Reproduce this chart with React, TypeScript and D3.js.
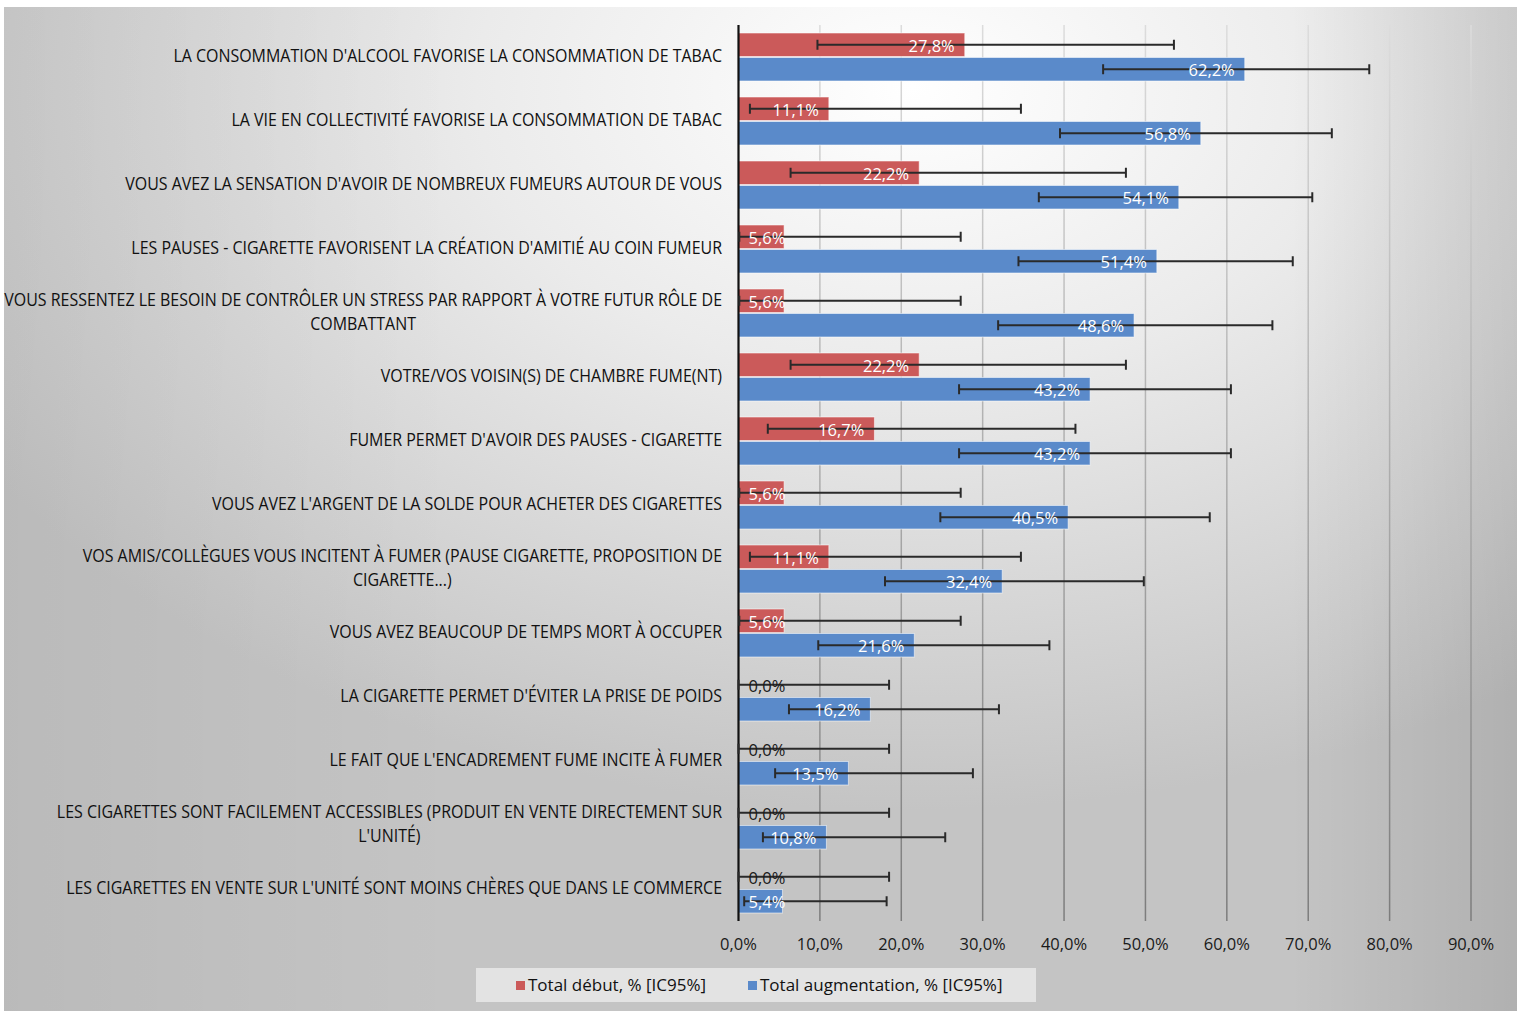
import React, { useEffect, useRef } from 'react';
import { select, scaleBand, scaleLinear } from 'd3';

// Categories (top to bottom); "\n" marks where the original label wraps
const categories = [
  "LA CONSOMMATION D'ALCOOL FAVORISE LA CONSOMMATION DE TABAC",
  "LA VIE EN COLLECTIVITÉ FAVORISE LA CONSOMMATION DE TABAC",
  "VOUS AVEZ LA SENSATION D'AVOIR DE NOMBREUX FUMEURS AUTOUR DE VOUS",
  "LES PAUSES - CIGARETTE FAVORISENT LA CRÉATION D'AMITIÉ AU COIN FUMEUR",
  "VOUS RESSENTEZ LE BESOIN DE CONTRÔLER UN STRESS PAR RAPPORT À VOTRE FUTUR RÔLE DE\nCOMBATTANT",
  "VOTRE/VOS VOISIN(S) DE CHAMBRE FUME(NT)",
  "FUMER PERMET D'AVOIR DES PAUSES - CIGARETTE",
  "VOUS AVEZ L'ARGENT DE LA SOLDE POUR ACHETER DES CIGARETTES",
  "VOS AMIS/COLLÈGUES VOUS INCITENT À FUMER (PAUSE CIGARETTE, PROPOSITION DE\nCIGARETTE...)",
  "VOUS AVEZ BEAUCOUP DE TEMPS MORT À OCCUPER",
  "LA CIGARETTE PERMET D'ÉVITER LA PRISE DE POIDS",
  "LE FAIT QUE L'ENCADREMENT FUME INCITE À FUMER",
  "LES CIGARETTES SONT FACILEMENT ACCESSIBLES (PRODUIT EN VENTE DIRECTEMENT SUR\nL'UNITÉ)",
  "LES CIGARETTES EN VENTE SUR L'UNITÉ SONT MOINS CHÈRES QUE DANS LE COMMERCE",
];

// Total début, % with 95% CI
const debut = [27.8, 11.1, 22.2, 5.6, 5.6, 22.2, 16.7, 5.6, 11.1, 5.6, 0, 0, 0, 0];
const debutLow = [9.7, 1.4, 6.4, 0.1, 0.1, 6.4, 3.6, 0.1, 1.4, 0.1, 0, 0, 0, 0];
const debutHigh = [53.5, 34.7, 47.6, 27.3, 27.3, 47.6, 41.4, 27.3, 34.7, 27.3, 18.5, 18.5, 18.5, 18.5];

// Total augmentation, % with 95% CI
const augmentation = [62.2, 56.8, 54.1, 51.4, 48.6, 43.2, 43.2, 40.5, 32.4, 21.6, 16.2, 13.5, 10.8, 5.4];
const augmentationLow = [44.8, 39.5, 36.9, 34.4, 31.9, 27.1, 27.1, 24.8, 18.0, 9.8, 6.2, 4.5, 3.0, 0.7];
const augmentationHigh = [77.5, 72.9, 70.5, 68.1, 65.6, 60.5, 60.5, 57.9, 49.8, 38.2, 32.0, 28.8, 25.4, 18.2];

const xTicks = [0, 10, 20, 30, 40, 50, 60, 70, 80, 90];

const seriesNames = ['Total début, % [IC95%]', 'Total augmentation, % [IC95%]'];
const seriesColors = ['#CB5A5A', '#5A8ACA'];

const FONT = "'Open Sans', 'Noto Sans', sans-serif";
const fmt = (v: number) => v.toFixed(1).replace('.', ',') + '%';

const Chart: React.FC = () => {
  const svgRef = useRef<SVGSVGElement>(null);

  useEffect(() => {
    if (!svgRef.current) return;
    const width = 1520;
    const height = 1012;

    const svg = select(svgRef.current);
    svg.selectAll('*').remove();
    svg.attr('width', width).attr('height', height).attr('viewBox', `0 0 ${width} ${height}`);

    // Background gradients
    const defs = svg.append('defs');
    const bg = defs.append('radialGradient')
      .attr('id', 'bgGrad')
      .attr('cx', '0.6').attr('cy', '0.08').attr('r', '0.72');
    bg.append('stop').attr('offset', '0%').attr('stop-color', '#ffffff');
    bg.append('stop').attr('offset', '40%').attr('stop-color', '#ebebeb');
    bg.append('stop').attr('offset', '100%').attr('stop-color', '#c4c4c4');

    const side = defs.append('linearGradient')
      .attr('id', 'sideGrad')
      .attr('x1', '0').attr('y1', '0').attr('x2', '1').attr('y2', '0');
    side.append('stop').attr('offset', '0%').attr('stop-color', '#000').attr('stop-opacity', 0.05);
    side.append('stop').attr('offset', '30%').attr('stop-color', '#000').attr('stop-opacity', 0);
    side.append('stop').attr('offset', '85%').attr('stop-color', '#000').attr('stop-opacity', 0);
    side.append('stop').attr('offset', '100%').attr('stop-color', '#000').attr('stop-opacity', 0.1);

    const plotTop = 25;
    const plotBottom = 921;

    const grid = defs.append('linearGradient')
      .attr('id', 'gridGrad')
      .attr('gradientUnits', 'userSpaceOnUse')
      .attr('x1', 0).attr('y1', plotTop).attr('x2', 0).attr('y2', plotBottom);
    grid.append('stop').attr('offset', '0%').attr('stop-color', '#dcdcdc');
    grid.append('stop').attr('offset', '100%').attr('stop-color', '#7c7c7c');

    svg.append('rect').attr('width', width).attr('height', height).attr('fill', '#ffffff');
    svg.append('rect').attr('x', 4).attr('y', 7).attr('width', 1513).attr('height', 1004).attr('fill', 'url(#bgGrad)');
    svg.append('rect').attr('x', 4).attr('y', 7).attr('width', 1513).attr('height', 1004).attr('fill', 'url(#sideGrad)');

    // Scales
    const x = scaleLinear().domain([0, 90]).range([738.5, 1471]);
    const y = scaleBand<number>()
      .domain(categories.map((_, i) => i))
      .range([plotTop, plotBottom])
      .paddingInner(0.25)
      .paddingOuter(0.125);
    const ySeries = scaleBand<number>().domain([0, 1]).range([0, y.bandwidth()]).paddingInner(0.04);

    // Gridlines
    svg.append('g')
      .selectAll('line')
      .data(xTicks.filter(t => t > 0))
      .enter()
      .append('line')
      .attr('x1', d => x(d)).attr('x2', d => x(d))
      .attr('y1', plotTop).attr('y2', plotBottom)
      .attr('stroke', 'url(#gridGrad)')
      .attr('stroke-width', 1.5);

    // Tick labels
    svg.append('g')
      .selectAll('text')
      .data(xTicks)
      .enter()
      .append('text')
      .attr('x', d => x(d))
      .attr('y', 944)
      .attr('dy', '0.35em')
      .attr('text-anchor', 'middle')
      .attr('font-family', FONT)
      .attr('font-size', 16.5)
      .attr('fill', '#1a1a1a')
      .text(d => fmt(d));

    // Bars
    const series = [
      { values: debut, low: debutLow, high: debutHigh },
      { values: augmentation, low: augmentationLow, high: augmentationHigh },
    ];

    series.forEach((s, si) => {
      const g = svg.append('g');
      g.selectAll('rect')
        .data(s.values.map((v, i) => ({ v, i })).filter(d => d.v > 0))
        .enter()
        .append('rect')
        .attr('x', x(0))
        .attr('y', d => (y(d.i) || 0) + (ySeries(si) || 0))
        .attr('width', d => x(d.v) - x(0))
        .attr('height', ySeries.bandwidth())
        .attr('fill', seriesColors[si])
        .attr('stroke', 'rgba(255,255,255,0.55)')
        .attr('stroke-width', 1);
    });

    // Category axis line
    svg.append('line')
      .attr('x1', x(0)).attr('x2', x(0))
      .attr('y1', plotTop).attr('y2', plotBottom)
      .attr('stroke', '#111').attr('stroke-width', 2.2);

    // Error bars
    series.forEach((s, si) => {
      const g = svg.append('g').attr('stroke', '#2a2a2a').attr('stroke-width', 2);
      s.values.forEach((_, i) => {
        const cy = (y(i) || 0) + (ySeries(si) || 0) + ySeries.bandwidth() / 2;
        const x1 = x(s.low[i]);
        const x2 = x(s.high[i]);
        g.append('line').attr('x1', x1).attr('x2', x2).attr('y1', cy).attr('y2', cy);
        g.append('line').attr('x1', x1).attr('x2', x1).attr('y1', cy - 5).attr('y2', cy + 5);
        g.append('line').attr('x1', x2).attr('x2', x2).attr('y1', cy - 5).attr('y2', cy + 5);
      });
    });

    // Data labels (inside end, kept clear of the axis), drawn over the error bars
    series.forEach((s, si) => {
      const g = svg.append('g');
      g.selectAll('text')
        .data(s.values.map((v, i) => ({ v, i })))
        .enter()
        .append('text')
        .attr('y', d => (y(d.i) || 0) + (ySeries(si) || 0) + ySeries.bandwidth() / 2 + 1)
        .attr('dy', '0.35em')
        .attr('font-family', FONT)
        .attr('font-size', 16.5)
        .attr('fill', d => (d.v === 0 ? '#1a1a1a' : '#ffffff'))
        .text(d => fmt(d.v))
        .each(function (d) {
          const w = (this as SVGTextElement).getComputedTextLength();
          const left = Math.max(x(d.v) - 10 - w, x(0) + 10);
          select(this).attr('x', left);
        });
    });

    // Category labels
    const labels = svg.append('g')
      .attr('font-family', FONT)
      .attr('font-size', 18)
      .attr('fill', '#111');
    const labelRight = 722;
    const lineGap = 23.5;

    // measure first label once to set a horizontal condensing factor (Calibri-like width)
    const probe = labels.append('text').text(categories[0].split('\n')[0]);
    const probeW = (probe.node() as SVGTextElement).getComputedTextLength();
    probe.remove();
    const k = probeW > 0 ? 549 / probeW : 1;

    categories.forEach((c, i) => {
      const lines = c.split('\n');
      const cy = (y(i) || 0) + y.bandwidth() / 2 - 1.5;
      const gl = labels.append('g')
        .attr('transform', `translate(${labelRight},${cy}) scale(${k},1)`);
      if (lines.length === 1) {
        gl.append('text').attr('text-anchor', 'end').attr('dy', '0.35em').text(lines[0]);
      } else {
        const first = gl.append('text').attr('text-anchor', 'end')
          .attr('y', -lineGap / 2).attr('dy', '0.35em').text(lines[0]);
        const w = (first.node() as SVGTextElement).getComputedTextLength();
        gl.append('text').attr('text-anchor', 'middle')
          .attr('x', -w / 2).attr('y', lineGap / 2).attr('dy', '0.35em').text(lines[1]);
      }
    });

    // Legend
    const legend = svg.append('g');
    legend.append('rect')
      .attr('x', 476).attr('y', 968).attr('width', 560).attr('height', 34)
      .attr('fill', '#e3e3e3');
    const legendX = [516, 748];
    seriesNames.forEach((name, si) => {
      legend.append('rect')
        .attr('x', legendX[si]).attr('y', 981)
        .attr('width', 9).attr('height', 9)
        .attr('fill', seriesColors[si]);
      legend.append('text')
        .attr('x', legendX[si] + 12).attr('y', 985)
        .attr('dy', '0.35em')
        .attr('font-family', FONT)
        .attr('font-size', 17)
        .attr('fill', '#111')
        .text(name);
    });
  }, []);

  return <svg ref={svgRef} style={{ position: 'absolute', left: 0, top: 0 }} />;
};

export default function App() {
  return <Chart />;
}
